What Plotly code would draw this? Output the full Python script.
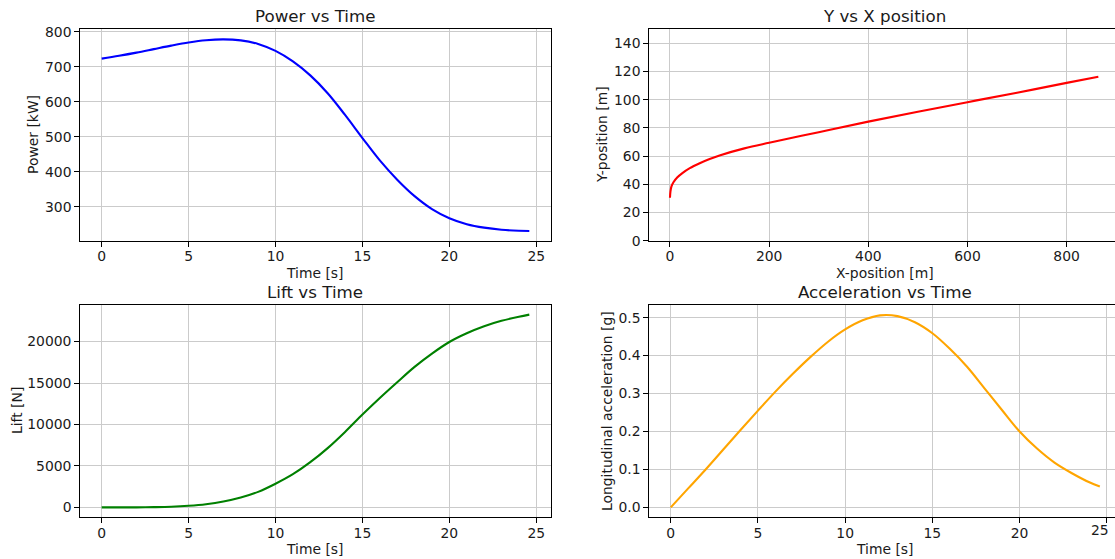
import plotly.graph_objects as go

W, H = 1115, 559

# ---------------- data ----------------
time_s = [0, 1, 2, 3, 4, 5, 6, 7, 8, 9, 10, 11, 12, 13, 14, 15, 16, 17, 18, 19,
          20, 21, 22, 23, 24, 24.6]

power_kw = [723, 731, 740, 750, 760, 769, 775.5, 778, 775, 765, 745, 715, 675, 624,
            562, 496, 432, 377, 330, 293, 267, 250, 240, 234, 231, 230.5]

lift_n = [0, 0, 5, 25, 75, 190, 380, 700, 1180, 1870, 2850, 4000, 5450, 7150,
          9100, 11200, 13200, 15100, 16950, 18550, 19950, 21000, 21850, 22500,
          23000, 23250]

accel_g = [0.0, 0.05, 0.10, 0.152, 0.204, 0.255, 0.305, 0.352, 0.396, 0.436,
           0.469, 0.493, 0.506, 0.504, 0.488, 0.459, 0.418, 0.37, 0.313, 0.256,
           0.2, 0.155, 0.118, 0.09, 0.066, 0.055]

x_pos_m = [0, 1, 3, 7, 15, 25, 40, 60, 80, 100, 150, 200, 300, 400, 500, 600, 700,
           800, 864]
y_pos_m = [30.5, 35, 38.5, 41.5, 45, 48, 51.5, 55, 58, 60.5, 65.5, 69.5, 77, 84.5,
           91.5, 98.3, 105, 112, 116.3]

time_ticks = [0, 5, 10, 15, 20, 25]
power_ticks = [300, 400, 500, 600, 700, 800]
xpos_ticks = [0, 200, 400, 600, 800]
ypos_ticks = [0, 20, 40, 60, 80, 100, 120, 140]
lift_ticks = [0, 5000, 10000, 15000, 20000]
accel_ticks = [0.0, 0.1, 0.2, 0.3, 0.4, 0.5]

# ---------------- layout helpers ----------------
FONT = "DejaVu Sans"
TICK_PX = 13.9
LABEL_PX = 13.9
TITLE_PX = 16.7
TEXT = "#1a1a1a"
GRID = "#cbcbcb"


def fx(p):
    return p / W


def fy(p):
    return 1 - p / H


# axes boxes in pixels: (left, right, top, bottom)
boxes = {
    1: (80.3, 550.7, 29.3, 240.7),
    2: (649.3, 1115.0, 29.3, 240.7),
    3: (80.3, 550.7, 305.0, 517.0),
    4: (649.3, 1115.0, 305.0, 517.0),
}


def axis_common():
    return dict(
        showgrid=True, gridcolor=GRID, gridwidth=1,
        zeroline=False,
        showline=True, linecolor="black", linewidth=1.1,
        ticks="outside", ticklen=5, tickwidth=1.1, tickcolor="black",
        ticklabeloverflow="allow",
        tickfont=dict(family=FONT, size=TICK_PX, color=TEXT),
    )


fig = go.Figure()

fig.add_trace(go.Scatter(x=time_s, y=power_kw, mode="lines",
                         line=dict(color="blue", width=2.1, shape="spline"),
                         xaxis="x", yaxis="y", showlegend=False))
fig.add_trace(go.Scatter(x=x_pos_m, y=y_pos_m, mode="lines",
                         line=dict(color="red", width=2.1, shape="spline"),
                         xaxis="x2", yaxis="y2", showlegend=False))
fig.add_trace(go.Scatter(x=time_s, y=lift_n, mode="lines",
                         line=dict(color="green", width=2.1, shape="spline"),
                         xaxis="x3", yaxis="y3", showlegend=False))
fig.add_trace(go.Scatter(x=time_s, y=accel_g, mode="lines",
                         line=dict(color="orange", width=2.1, shape="spline"),
                         xaxis="x4", yaxis="y4", showlegend=False))

ranges = {
    1: ([-1.23, 25.83], [202.7, 806.7], time_ticks, power_ticks, "d"),
    2: ([-41.7, 897.6], [0, 150], xpos_ticks, ypos_ticks, "d"),
    3: ([-1.23, 25.83], [-1162, 24412], time_ticks, lift_ticks, "d"),
    4: ([-1.23, 25.47], [-0.0254, 0.5334], time_ticks, accel_ticks, ".1f"),
}

layout = dict(
    width=W, height=H,
    autosize=False,
    margin=dict(l=0, r=0, t=0, b=0, pad=0),
    paper_bgcolor="white", plot_bgcolor="white",
    showlegend=False,
)

for i, (l, r, t, b) in boxes.items():
    xr, yr, xt, yt, yfmt = ranges[i]
    sfx = "" if i == 1 else str(i)
    xa = axis_common()
    xa.update(domain=[fx(l), fx(r)], range=xr, tickmode="array", tickvals=xt,
              tickformat="d", mirror=True, anchor="y" + sfx, automargin=False,
              ticklabelstandoff=-2)
    ya = axis_common()
    ya.update(domain=[fy(b), fy(t)], range=yr, tickmode="array", tickvals=yt,
              tickformat=yfmt, mirror=(i in (1, 3)), anchor="x" + sfx,
              automargin=False)
    layout["xaxis" + sfx] = xa
    layout["yaxis" + sfx] = ya

# the last time tick of the lower-right panel sits at the page edge;
# its label is written separately
layout["xaxis4"]["ticktext"] = [str(v) for v in time_ticks[:-1]] + [""]

fig.update_layout(**layout)


def note(text, xp, yp, size, angle=0, xanchor="center"):
    fig.add_annotation(text=text, x=fx(xp), y=fy(yp), xref="paper", yref="paper",
                       xanchor=xanchor, yanchor="middle", showarrow=False,
                       textangle=angle, borderpad=0,
                       font=dict(family=FONT, size=size, color=TEXT))


# subplot titles
note("Power vs Time", 315.5, 15.5, TITLE_PX)
note("Y vs X position", 884.7, 15.5, TITLE_PX)
note("Lift vs Time", 315.5, 291.5, TITLE_PX)
note("Acceleration vs Time", 884.7, 291.5, TITLE_PX)

# x-axis labels
note("Time [s]", 315.5, 273, LABEL_PX)
note("X-position [m]", 884.7, 273, LABEL_PX)
note("Time [s]", 315.5, 549, LABEL_PX)
note("Time [s]", 884.7, 549, LABEL_PX)

# y-axis labels
note("Power [kW]", 33, 135, LABEL_PX, -90)
note("Y-position [m]", 602, 135, LABEL_PX, -90)
note("Lift [N]", 17, 411, LABEL_PX, -90)
note("Longitudinal acceleration [g]", 607, 411, LABEL_PX, -90)

# label of the 25 s tick on the acceleration panel
note(str(time_ticks[-1]), 1100, 530, TICK_PX)

fig.write_html(
    "out.html",
    config={"responsive": False},
    post_script=(
        "document.body.style.margin='0';"
        "document.body.style.overflow='hidden';"
        "document.documentElement.style.overflow='hidden';"
    ),
)
